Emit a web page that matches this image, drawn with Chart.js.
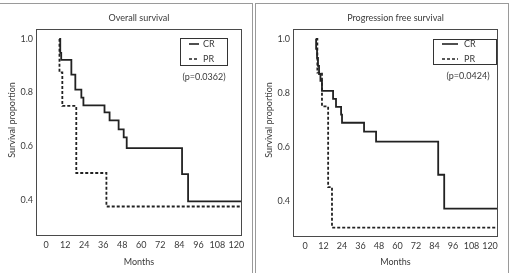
<!DOCTYPE html>
<html lang="en">
<head>
  <meta charset="UTF-8" />
  <title>Survival curves</title>
  <style>
    * {
      margin: 0;
      padding: 0;
    }

    body {
      width: 510px;
      height: 273px;
      background: #fff;
      overflow: hidden;
      position: relative;
    }

    .frame {
      position: absolute;
      top: 3px;
      height: 290px;
      border: 1.5px solid #9a9a9a;
      box-sizing: border-box;
    }

    .panel {
      position: absolute;
      top: 0;
      height: 273px;
    }
  </style>
</head>

<body>
  <div class="frame" style="left:-3px;width:256px"></div>
  <div class="frame" style="left:255px;width:254px"></div>
  <div class="panel" style="left:0;width:253px">
    <canvas id="osChart" width="253" height="273"></canvas>
  </div>
  <div class="panel" style="left:256px;width:254px">
    <canvas id="pfsChart" width="254" height="273"></canvas>
  </div>

  <script src="https://cdn.jsdelivr.net/npm/chart.js@4.4.0/dist/chart.umd.min.js"></script>
  <script>
    const FONT = 'Lato, "Open Sans", sans-serif';
    const TEXT = "#3a3a3a";

    // axis ticks
    const xTicks = [0, 12, 24, 36, 48, 60, 72, 84, 96, 108, 120];
    const yTicks = [0.4, 0.6, 0.8, 1.0];

    const groups = ["CR", "PR"];
    const titles = ["Overall survival", "Progression free survival"];
    const pValues = ["(p=0.0362)", "(p=0.0424)"];

    // overall survival (months, proportion)
    const osMonthsCR = [8.5, 8.9, 9.5, 15.9, 18.4, 22.2, 23.5, 36.8, 40, 45.7, 48.9, 50.8, 85.7, 89.5, 123.5];
    const osCR = [1.0, 0.948, 0.922, 0.867, 0.811, 0.781, 0.752, 0.726, 0.696, 0.663, 0.633, 0.593, 0.496, 0.394, 0.394];
    const osMonthsPR = [8.3, 8.4, 10.2, 19, 38, 123.5];
    const osPR = [1.0, 0.875, 0.75, 0.5, 0.375, 0.375];

    // progression free survival
    const pfsMonthsCR = [7, 7.2, 7.8, 8.4, 9.1, 10, 11, 18.2, 20.1, 23.4, 24, 38.3, 46.1, 86.4, 90.3, 125];
    const pfsCR = [1.0, 0.963, 0.93, 0.9, 0.87, 0.845, 0.807, 0.778, 0.748, 0.719, 0.689, 0.656, 0.619, 0.496, 0.37, 0.37];
    const pfsMonthsPR = [7, 8, 11, 15, 17.5, 125];
    const pfsPR = [1.0, 0.875, 0.75, 0.45, 0.3, 0.3];

    function pts(xs, ys) {
      return xs.map((x, i) => ({ x: x, y: ys[i] }));
    }

    // plot box, title, y title, boxed legend
    const decor = {
      id: "decor",
      afterDraw(chart, args, o) {
        const ctx = chart.ctx;
        const a = chart.chartArea;
        ctx.save();
        ctx.strokeStyle = "#4a4a4a";
        ctx.lineWidth = 1;
        ctx.strokeRect(Math.round(a.left) + 0.5, Math.round(a.top) + 0.5,
          Math.round(a.width) - 1, Math.round(a.height) - 1);

        ctx.fillStyle = TEXT;
        ctx.font = "9px " + FONT;
        ctx.textAlign = "center";
        ctx.textBaseline = "middle";
        ctx.fillText(o.title, (a.left + a.right) / 2, 18);

        ctx.save();
        ctx.translate(o.yTitleX, o.yTitleY);
        ctx.rotate(-Math.PI / 2);
        ctx.fillText("Survival proportion", 0, 0);
        ctx.restore();

        // legend box
        const bx = Math.round(a.right - o.boxRight - o.boxW);
        const by = Math.round(a.top + o.boxTop);
        ctx.strokeStyle = "#333";
        ctx.strokeRect(bx + 0.5, by + 0.5, o.boxW, o.boxH);
        ctx.lineWidth = 1.6;
        ctx.strokeStyle = "#222";
        ctx.beginPath();
        ctx.moveTo(bx + o.lineX0, by + o.rowY[0]);
        ctx.lineTo(bx + o.lineX1, by + o.rowY[0]);
        ctx.stroke();
        ctx.setLineDash([3, 2]);
        ctx.beginPath();
        ctx.moveTo(bx + o.lineX0, by + o.rowY[1]);
        ctx.lineTo(bx + o.lineX1, by + o.rowY[1]);
        ctx.stroke();
        ctx.setLineDash([]);
        ctx.textAlign = "left";
        ctx.fillText(groups[0], bx + o.textX, by + o.rowY[0]);
        ctx.fillText(groups[1], bx + o.textX, by + o.rowY[1]);
        ctx.textAlign = "center";
        ctx.fillText(o.pText, bx + o.pX, by + o.pY);
        ctx.restore();
      },
    };

    function makeChart(id, crPts, prPts, xMin, xMax, yAxisW, xAxisH, padRight, deco) {
      const tickFont = { family: FONT, size: 9 };
      return new Chart(document.getElementById(id).getContext("2d"), {
        type: "line",
        data: {
          datasets: [
            {
              label: groups[0],
              data: crPts,
              stepped: true,
              borderColor: "#222",
              borderWidth: 1.8,
              pointRadius: 0,
              fill: false,
            },
            {
              label: groups[1],
              data: prPts,
              stepped: true,
              borderColor: "#222",
              borderWidth: 1.8,
              borderDash: [3, 2],
              pointRadius: 0,
              fill: false,
            },
          ],
        },
        options: {
          responsive: false,
          animation: false,
          layout: { padding: { top: 29, right: padRight, left: 0, bottom: 0 } },
          scales: {
            x: {
              type: "linear",
              min: xMin,
              max: xMax,
              afterBuildTicks: (s) => { s.ticks = xTicks.map((v) => ({ value: v })); },
              afterFit: (s) => { s.height = xAxisH; },
              grid: { display: false, drawTicks: false },
              border: { display: false },
              ticks: { color: TEXT, font: tickFont, padding: 4, maxRotation: 0, autoSkip: false },
              title: {
                display: true,
                text: "Months",
                color: TEXT,
                font: tickFont,
                padding: { top: 0, bottom: 6 },
              },
            },
            y: {
              min: 0.265,
              max: 1.037,
              afterBuildTicks: (s) => { s.ticks = yTicks.map((v) => ({ value: v })); },
              afterFit: (s) => { s.width = yAxisW; },
              grid: { display: false, drawTicks: false },
              border: { display: false },
              ticks: {
                color: TEXT,
                font: tickFont,
                padding: 3,
                callback: (v) => v.toFixed(1),
              },
            },
          },
          plugins: {
            legend: { display: false },
            tooltip: { enabled: false },
            decor: deco,
          },
        },
        plugins: [decor],
      });
    }

    makeChart("osChart", pts(osMonthsCR, osCR), pts(osMonthsPR, osPR), -6.4, 123.5, 36, 37, 11, {
      title: titles[0],
      yTitleX: 12,
      yTitleY: 120,
      boxRight: 15,
      boxTop: 9,
      boxW: 47,
      boxH: 27,
      lineX0: 9,
      lineX1: 19,
      textX: 23,
      rowY: [6, 21],
      pText: pValues[0],
      pX: 24,
      pY: 39,
    });

    makeChart("pfsChart", pts(pfsMonthsCR, pfsCR), pts(pfsMonthsPR, pfsPR), -7.8, 125.2, 37, 36, 12, {
      title: titles[1],
      yTitleX: 13,
      yTitleY: 120,
      boxRight: 2,
      boxTop: 10,
      boxW: 63,
      boxH: 25,
      lineX0: 9,
      lineX1: 25,
      textX: 31,
      rowY: [5, 20],
      pText: pValues[1],
      pX: 35,
      pY: 37,
    });
  </script>
</body>

</html>
